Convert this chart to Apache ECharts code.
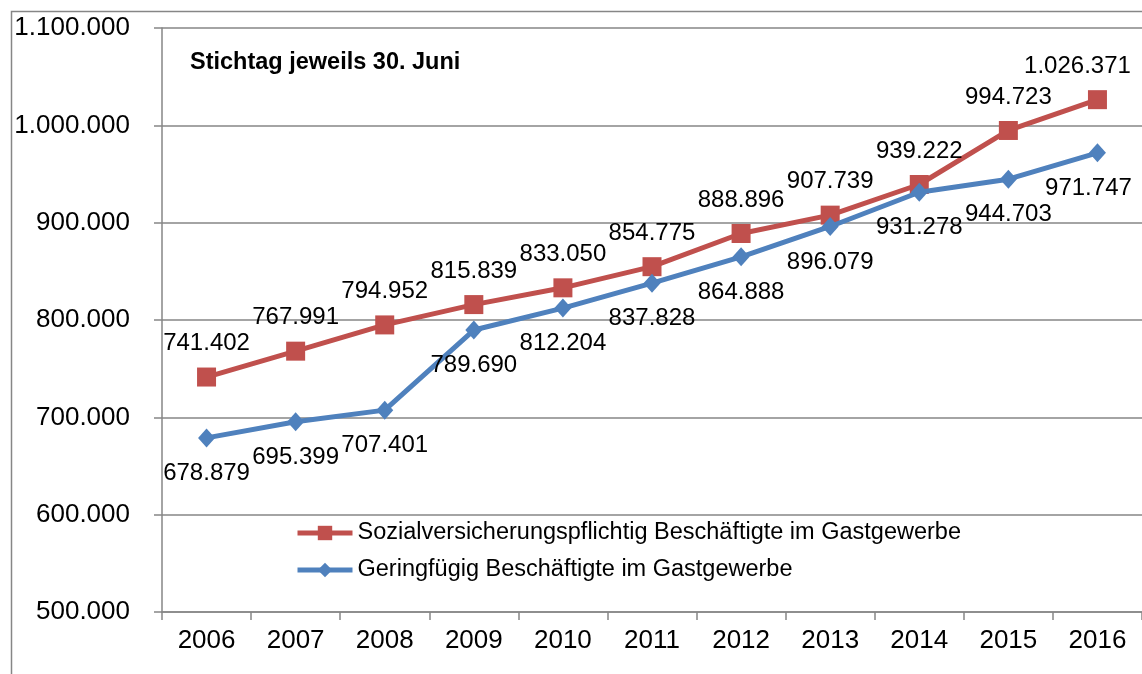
<!DOCTYPE html>
<html>
<head>
<meta charset="utf-8">
<script src="https://cdn.jsdelivr.net/npm/echarts@6/dist/echarts.min.js"></script>
<style>
html,body{margin:0;padding:0;background:#fff;}
#c{width:1142px;height:674px;}
</style>
</head>
<body>
<div id="c"></div>
<script>
const years = ['2006','2007','2008','2009','2010','2011','2012','2013','2014','2015','2016'];
const sozialName = 'Sozialversicherungspflichtig Beschäftigte im Gastgewerbe';
const geringName = 'Geringfügig Beschäftigte im Gastgewerbe';
const sozial = [741402, 767991, 794952, 815839, 833050, 854775, 888896, 907739, 939222, 994723, 1026371];
const gering = [678879, 695399, 707401, 789690, 812204, 837828, 864888, 896079, 931278, 944703, 971747];
const yMin = 500000, yMax = 1100000, yStep = 100000;
const titleText = 'Stichtag jeweils 30. Juni';

const FONT = '"Liberation Sans", Arial, sans-serif';
const fmt = v => String(v).replace(/\B(?=(\d{3})+(?!\d))/g, '.');
const RED = '#C0504D', BLUE = '#4F81BD', GRAY = '#868686';
const LABEL_SIZE = 24;

const last = years.length - 1;
const sozialData = sozial.map((v, i) => i === last ? {value: v, label: {offset: [-20, 0]}} : v);
const geringData = gering.map((v, i) => i === last ? {value: v, label: {offset: [-9, 0]}} : v);

const chart = echarts.init(document.getElementById('c'), null, {renderer: 'canvas'});
chart.setOption({
  animation: false,
  textStyle: {fontFamily: FONT},
  graphic: [
    {type: 'rect', left: 9, top: 9, shape: {x: 0, y: 0, width: 1300, height: 800},
     style: {fill: 'none', stroke: GRAY, lineWidth: 1.5}, z: 0, silent: true},
    {type: 'text', left: 190, top: 51, style: {text: titleText, font: 'bold 23.5px ' + FONT, fill: '#000'}, z: 10}
  ],
  grid: {left: 162, right: 0, top: 28, bottom: 62, containLabel: false},
  legend: {
    orient: 'vertical', left: 295, top: 520, padding: 0, itemWidth: 55, itemHeight: 18, itemGap: 11,
    lineStyle: {width: 5},
    textStyle: {fontSize: 23.5, fontFamily: FONT, color: '#000', lineHeight: 26},
    data: [sozialName, geringName]
  },
  xAxis: {
    type: 'category', data: years, boundaryGap: true,
    axisLine: {lineStyle: {color: GRAY, width: 1.5}},
    axisTick: {show: true, length: 8, inside: false, lineStyle: {color: GRAY, width: 1.5}},
    axisLabel: {fontSize: 26, color: '#000', margin: 16, fontFamily: FONT}
  },
  yAxis: {
    type: 'value', min: yMin, max: yMax, interval: yStep,
    axisLine: {show: true, lineStyle: {color: GRAY, width: 1.5}},
    axisTick: {show: true, length: 8, lineStyle: {color: GRAY, width: 1.5}},
    splitLine: {show: true, lineStyle: {color: GRAY, width: 1.5}},
    axisLabel: {fontSize: 26, color: '#000', margin: 32, fontFamily: FONT, formatter: v => fmt(v)}
  },
  series: [
    {
      name: sozialName, type: 'line', data: sozialData,
      symbol: 'rect', symbolSize: 19,
      lineStyle: {color: RED, width: 5}, itemStyle: {color: RED},
      label: {show: true, position: 'top', distance: 12, fontSize: LABEL_SIZE, color: '#000', fontFamily: FONT, formatter: p => fmt(p.value)},
      z: 2
    },
    {
      name: geringName, type: 'line', data: geringData,
      symbol: 'diamond', symbolSize: [17, 19],
      lineStyle: {color: BLUE, width: 5}, itemStyle: {color: BLUE},
      label: {show: true, position: 'bottom', distance: 14, fontSize: LABEL_SIZE, color: '#000', fontFamily: FONT, formatter: p => fmt(p.value)},
      z: 3
    }
  ]
});
</script>
</body>
</html>
